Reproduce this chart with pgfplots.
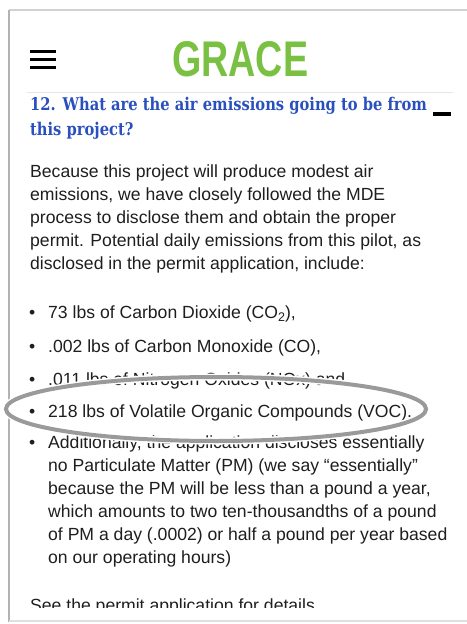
\documentclass[border=0pt]{standalone}
\usepackage{pgfplots}
\pgfplotsset{compat=1.18}
\usepackage{graphicx}
\usepackage{fontspec}
\setmainfont{Liberation Sans}
\newfontfamily\titlefont{DejaVu Serif}
\newfontfamily\logofont{Liberation Sans}
\definecolor{gracegreen}{HTML}{7AC143}
\definecolor{titleblue}{HTML}{2A50BE}
\definecolor{bodytext}{HTML}{1E1E1E}
\definecolor{ringgray}{HTML}{9A9A9A}
\begin{document}
\begin{tikzpicture}
\begin{axis}[
  scale only axis, width=467bp, height=624bp,
  xmin=0, xmax=467, ymin=0, ymax=624, y dir=reverse,
  axis lines=none, clip=true,
]
% invisible frame series (page extent)
\addplot[draw=none, forget plot] coordinates {(0,0) (467,624)};
% card frame and shadow
\draw[gray!35, line width=1.2bp] (axis cs:9,10) -- (axis cs:467,10);
\draw[gray!60, line width=2.5bp] (axis cs:9,10) -- (axis cs:9,622);
\draw[gray!25, line width=1.2bp] (axis cs:9,621) -- (axis cs:467,621);
% hamburger
\draw[black, line width=3bp] (axis cs:30,52) -- (axis cs:56,52);
\draw[black, line width=3bp] (axis cs:30,60) -- (axis cs:56,60);
\draw[black, line width=3bp] (axis cs:30,68) -- (axis cs:56,68);
% logo
\node[anchor=south west, inner sep=0pt, text=gracegreen] at (axis cs:172,77)
  {\resizebox{136bp}{35bp}{\logofont\bfseries GRACE}};
% divider
\draw[gray!20, line width=0.8bp] (axis cs:27,92) -- (axis cs:453,92);
% title
\node[anchor=base west, inner sep=0pt, text=titleblue, font=\titlefont\bfseries\fontsize{17.5bp}{21bp}\selectfont, xscale=0.84, transform shape] at (axis cs:30,110) {12. What are the air emissions going to be from};
\node[anchor=base west, inner sep=0pt, text=titleblue, font=\titlefont\bfseries\fontsize{17.5bp}{21bp}\selectfont, xscale=0.84, transform shape] at (axis cs:30,135) {this project?};
\draw[black, line width=3.5bp] (axis cs:433,114) -- (axis cs:451,114);
% body paragraph
\begin{scope}[every node/.style={anchor=base west, inner sep=0pt, text=bodytext, font=\fontsize{17.6bp}{23bp}\selectfont}]
\node at (axis cs:30,177) {Because this project will produce modest air};
\node at (axis cs:30,200) {emissions, we have closely followed the MDE};
\node at (axis cs:30,223) {process to disclose them and obtain the proper};
\node at (axis cs:30,246) {permit. Potential daily emissions from this pilot, as};
\node at (axis cs:30,269) {disclosed in the permit application, include:};
% bullets
\node at (axis cs:29,318) {\textbullet};
\node at (axis cs:48,318) {73 lbs of Carbon Dioxide (CO\raisebox{-0.35ex}{\fontsize{12.5bp}{14bp}\selectfont 2}),};
\node at (axis cs:29,352) {\textbullet};
\node at (axis cs:48,352) {.002 lbs of Carbon Monoxide (CO),};
\node at (axis cs:29,385) {\textbullet};
\node at (axis cs:48,385) {.011 lbs of Nitrogen Oxides (NOx) and};
\node at (axis cs:29,417) {\textbullet};
\node at (axis cs:48,417) {218 lbs of Volatile Organic Compounds (VOC).};
\node at (axis cs:29,448) {\textbullet};
\node at (axis cs:48,448) {Additionally, the application discloses essentially};
\node at (axis cs:48,471) {no Particulate Matter (PM) (we say “essentially”};
\node at (axis cs:48,494) {because the PM will be less than a pound a year,};
\node at (axis cs:48,517) {which amounts to two ten-thousandths of a pound};
\node at (axis cs:48,540) {of PM a day (.0002) or half a pound per year based};
\node at (axis cs:48,563) {on our operating hours)};
\node at (axis cs:30,611) {See the permit application for details};
\end{scope}
% mask bottom of last line
\fill[white] (axis cs:12,608) rectangle (axis cs:467,619);
% highlight ring
\draw[white, line width=7bp] (axis cs:216,409) ellipse [x radius=210bp, y radius=32bp];
\draw[ringgray, line width=4bp] (axis cs:216,409) ellipse [x radius=210bp, y radius=32bp];
\end{axis}
\end{tikzpicture}
\end{document}
